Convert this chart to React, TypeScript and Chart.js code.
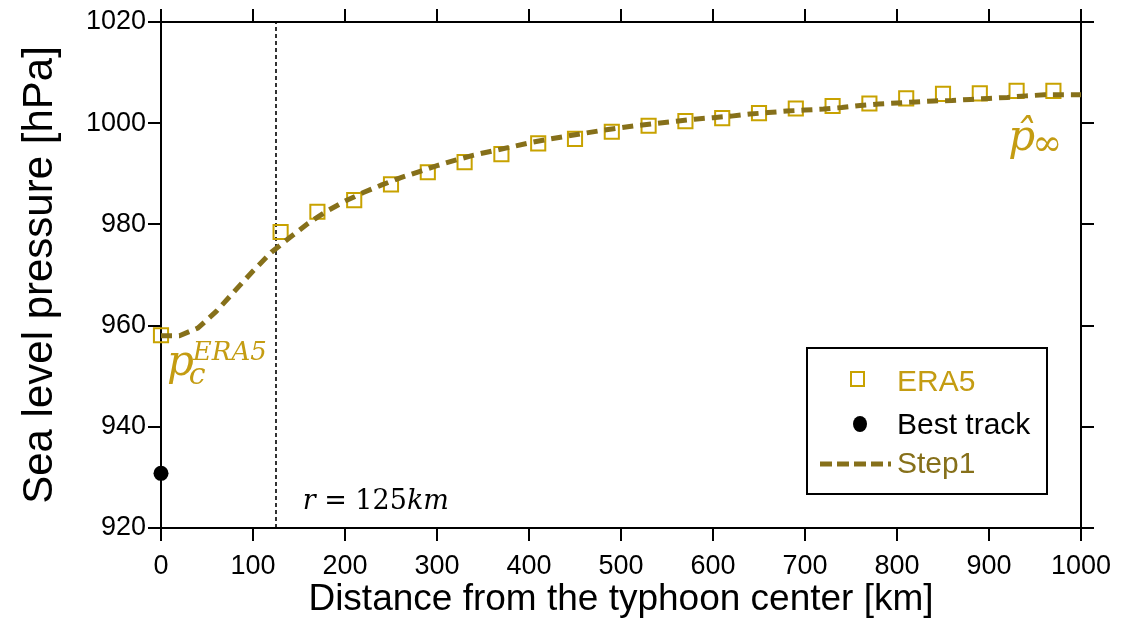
import React, { useEffect, useRef } from "react";
import { Chart, registerables } from "chart.js";

Chart.register(...registerables);

// ---------- data ----------
const era5Distance = [0, 130, 170, 210, 250, 290, 330, 370, 410, 450, 490, 530, 570, 610, 650, 690, 730, 770, 810, 850, 890, 930, 970];
const era5Pressure = [958.1, 978.5, 982.5, 984.8, 987.9, 990.3, 992.3, 993.9, 996.0, 996.9, 998.3, 999.5, 1000.4, 1001.0, 1002.0, 1002.9, 1003.4, 1003.9, 1004.9, 1005.8, 1005.9, 1006.4, 1006.4];

const bestTrackDistance = [0];
const bestTrackPressure = [930.8];

const step1Distance = [0, 20, 40, 60, 80, 100, 120, 140, 160, 180, 200, 220, 240, 260, 280, 300, 320, 340, 360, 380, 400, 420, 440, 460, 480, 500, 520, 540, 560, 580, 600, 620, 640, 660, 680, 700, 720, 740, 760, 780, 800, 820, 840, 860, 880, 900, 920, 940, 960, 980, 1000];
const step1Pressure = [958.0, 958.0, 959.5, 962.8, 966.8, 970.8, 974.5, 977.4, 980.2, 982.6, 984.6, 986.3, 987.8, 989.2, 990.4, 991.6, 992.7, 993.7, 994.5, 995.3, 996.1, 996.8, 997.4, 998.0, 998.6, 999.1, 999.6, 1000.0, 1000.4, 1000.8, 1001.1, 1001.4, 1001.8, 1002.1, 1002.4, 1002.6, 1002.8, 1003.1, 1003.5, 1003.8, 1004.0, 1004.2, 1004.4, 1004.5, 1004.7, 1004.9, 1005.1, 1005.4, 1005.6, 1005.6, 1005.6];

const radiusMarkKm = [125];

const xMin = 0, xMax = 1000, xStep = 100;
const yMin = 920, yMax = 1020, yStep = 20;

const labels = ["ERA5", "Best track", "Step1"];

// ---------- styles ----------
const GOLD = "#C8A200";
const GOLD_TEXT = "#C49C12";
const OLIVE = "#86701A";
const SANS = "'Liberation Sans', Arial, sans-serif";
const SERIF = "'DejaVu Serif', 'Liberation Serif', serif";

const toPts = (xs: number[], ys: number[]) => xs.map((x, i) => ({ x, y: ys[i] }));

const overlayPlugin = {
  id: "overlay",
  afterDraw(chart: any) {
    const { ctx, chartArea, scales } = chart;
    const x = scales.x, y = scales.y;
    ctx.save();
    ctx.textBaseline = "alphabetic";
    ctx.textAlign = "left";

    // p_c^{ERA5}
    {
      const px = x.getPixelForValue(6.5);
      const py = y.getPixelForValue(950.2);
      ctx.fillStyle = GOLD_TEXT;
      ctx.font = `italic 42px ${SERIF}`;
      ctx.fillText("p", px, py);
      const pw = ctx.measureText("p").width;
      ctx.font = `italic 30px ${SERIF}`;
      ctx.fillText("c", px + pw - 5, py + 9);
      ctx.font = `italic 26px ${SERIF}`;
      ctx.fillText("ERA5", px + pw - 1, py - 15);
    }

    // p̂_∞
    {
      const px = x.getPixelForValue(921);
      const py = y.getPixelForValue(994.8);
      ctx.fillStyle = GOLD_TEXT;
      ctx.font = `italic 42px ${SERIF}`;
      ctx.fillText("p\u0302", px, py);
      const pw = ctx.measureText("p").width;
      ctx.font = `36px ${SERIF}`;
      ctx.fillText("\u221E", px + pw - 3, py + 5);
    }

    // r = 125km
    {
      let px = x.getPixelForValue(154);
      const py = y.getPixelForValue(923.7);
      ctx.fillStyle = "#000";
      const parts: [string, boolean][] = [["r", true], [" = ", false], ["125", false], ["km", true]];
      for (const [t, it] of parts) {
        ctx.font = `${it ? "italic " : ""}27px ${SERIF}`;
        ctx.fillText(t, px, py);
        px += ctx.measureText(t).width;
      }
    }

    // legend
    {
      const w = 240, h = 146;
      const R = chartArea.right - 34;
      const B = chartArea.bottom - 34;
      const L = R - w, T = B - h;
      ctx.fillStyle = "#fff";
      ctx.fillRect(L, T, w, h);
      ctx.lineWidth = 2;
      ctx.strokeStyle = "#000";
      ctx.strokeRect(L, T, w, h);

      const tx = L + 90;
      ctx.textBaseline = "middle";
      ctx.font = `30px ${SANS}`;

      // ERA5
      ctx.strokeStyle = GOLD;
      ctx.lineWidth = 2;
      ctx.strokeRect(L + 44, T + 24, 13, 14);
      ctx.fillStyle = GOLD_TEXT;
      ctx.fillText(labels[0], tx, T + 35);

      // Best track
      ctx.fillStyle = "#000";
      ctx.beginPath();
      ctx.ellipse(L + 53, T + 76, 7, 8, 0, 0, Math.PI * 2);
      ctx.fill();
      ctx.fillText(labels[1], tx, T + 78);

      // Step1
      ctx.strokeStyle = OLIVE;
      ctx.lineWidth = 5;
      ctx.setLineDash([12, 5]);
      ctx.beginPath();
      ctx.moveTo(L + 13, T + 116);
      ctx.lineTo(L + 84, T + 116);
      ctx.stroke();
      ctx.setLineDash([]);
      ctx.fillStyle = OLIVE;
      ctx.fillText(labels[2], tx, T + 117);
    }
    ctx.restore();
  },
};

const gridOpts = {
  drawOnChartArea: false,
  drawTicks: true,
  tickLength: 13,
  color: "#000",
  lineWidth: 2,
};
const borderOpts = { color: "#000", width: 2 };
const plainTick = (v: any) => String(v);

export default function App() {
  const canvasRef = useRef<HTMLCanvasElement | null>(null);

  useEffect(() => {
    const canvas = canvasRef.current;
    if (!canvas) return;
    const chart = new Chart(canvas, {
      type: "line",
      data: {
        datasets: [
          {
            label: labels[2],
            data: toPts(step1Distance, step1Pressure),
            borderColor: OLIVE,
            borderWidth: 5,
            borderDash: [11, 7],
            pointRadius: 0,
            fill: false,
            tension: 0,
            clip: false,
          },
          {
            label: labels[0],
            data: toPts(era5Distance, era5Pressure),
            showLine: false,
            pointStyle: "rect",
            pointRadius: 10,
            pointBorderWidth: 2,
            pointBorderColor: GOLD,
            pointBackgroundColor: "rgba(0,0,0,0)",
            borderColor: GOLD,
            clip: false,
          },
          {
            label: labels[1],
            data: toPts(bestTrackDistance, bestTrackPressure),
            showLine: false,
            pointStyle: "circle",
            pointRadius: 7.5,
            pointBorderWidth: 0,
            pointBackgroundColor: "#000",
            borderColor: "#000",
            clip: false,
          },
          {
            label: "r",
            data: [
              { x: radiusMarkKm[0], y: yMin },
              { x: radiusMarkKm[0], y: yMax },
            ],
            borderColor: "#000",
            borderWidth: 1.6,
            borderDash: [4, 3],
            pointRadius: 0,
            fill: false,
          },
        ],
      },
      options: {
        animation: false,
        responsive: true,
        maintainAspectRatio: false,
        layout: { padding: 0 },
        plugins: {
          legend: { display: false },
          tooltip: { enabled: false },
        },
        scales: {
          x: {
            type: "linear",
            position: "bottom",
            min: xMin,
            max: xMax,
            ticks: {
              stepSize: xStep,
              color: "#000",
              font: { family: SANS, size: 27 },
              padding: 9,
              maxRotation: 0,
              callback: plainTick,
            },
            grid: gridOpts,
            border: borderOpts,
            title: {
              display: true,
              text: "Distance from the typhoon center [km]",
              color: "#000",
              font: { family: SANS, size: 37 },
              padding: { top: 0, bottom: 0 },
            },
            afterFit: (s: any) => {
              s.height = 94;
            },
          },
          x2: {
            type: "linear",
            position: "top",
            min: xMin,
            max: xMax,
            ticks: { stepSize: xStep, display: false },
            grid: gridOpts,
            border: borderOpts,
            afterFit: (s: any) => {
              s.height = 22;
            },
          },
          y: {
            type: "linear",
            position: "left",
            min: yMin,
            max: yMax,
            ticks: {
              stepSize: yStep,
              color: "#000",
              font: { family: SANS, size: 27 },
              padding: 2,
              callback: plainTick,
            },
            grid: gridOpts,
            border: borderOpts,
            title: {
              display: true,
              text: "Sea level pressure [hPa]",
              color: "#000",
              font: { family: SANS, size: 42 },
              padding: { top: 15, bottom: 0 },
            },
            afterFit: (s: any) => {
              s.width = 161;
            },
          },
          y2: {
            type: "linear",
            position: "right",
            min: yMin,
            max: yMax,
            ticks: { stepSize: yStep, display: false },
            grid: gridOpts,
            border: borderOpts,
            afterFit: (s: any) => {
              s.width = 59;
            },
          },
        },
      },
      plugins: [overlayPlugin],
    });
    return () => chart.destroy();
  }, []);

  return (
    <div style={{ position: "fixed", left: 0, top: 0, width: 1140, height: 622, background: "#fff" }}>
      <canvas ref={canvasRef} />
    </div>
  );
}
